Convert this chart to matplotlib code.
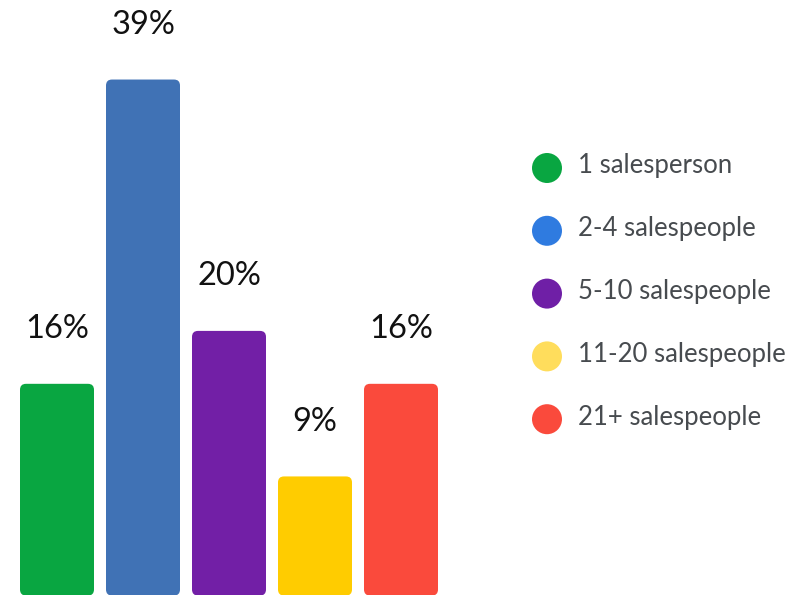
import matplotlib
matplotlib.use("Agg")
import matplotlib.pyplot as plt
from matplotlib.patches import FancyBboxPatch

categories = ["1 salesperson", "2-4 salespeople", "5-10 salespeople", "11-20 salespeople", "21+ salespeople"]
values = [16, 39, 20, 9, 16]
labels = ["16%", "39%", "20%", "9%", "16%"]
bar_colors = ["#09a641", "#4072b5", "#721fa6", "#ffcc00", "#fa4a3c"]
legend_colors = ["#09a641", "#2f7be0", "#6f1fa6", "#ffdd5c", "#fa4a3c"]

plt.rcParams['font.family'] = ['Lato', 'DejaVu Sans']

W, H = 807, 595
fig = plt.figure(figsize=(W / 100, H / 100), dpi=100)
ax = fig.add_axes([0, 0, 1, 1])
ax.set_axis_off()

step_px = 86.0
px_per_unit = 13.23
x0_px = 57.0
base_px = 595.5
ax.set_xlim(-x0_px / step_px, (W - x0_px) / step_px)
ax.set_ylim(-(H - base_px) / px_per_unit, base_px / px_per_unit)

bw = 74 / step_px
r = 6 / step_px
aspect = (6 / px_per_unit) / r
for i, (v, c, lab) in enumerate(zip(values, bar_colors, labels)):
    p = FancyBboxPatch((i - bw / 2, 0), bw, v,
                       boxstyle=f"round,pad=0,rounding_size={r}",
                       mutation_aspect=aspect, fc=c, ec="none")
    ax.add_patch(p)
    ax.annotate(lab, (i, v), xytext=(0, 45.7 * 0.72), textcoords="offset points",
                ha="center", va="baseline", fontsize=23.5, color="#111111")

# legend
lax = fig.add_axes([0, 0, 1, 1])
lax.set_axis_off()
lax.set_xlim(0, W)
lax.set_ylim(H, 0)
lx, ly0, dy = 547, 168, 62.8
for i, (cat, c) in enumerate(zip(categories, legend_colors)):
    y = ly0 + i * dy
    lax.scatter([lx], [y], s=(30 * 0.72) ** 2, color=c, edgecolors="none")
    lax.text(lx + 31, y + 5.5, cat, ha="left", va="baseline", fontsize=18.5, color="#474b4f")

fig.savefig("out.png", dpi=100)
